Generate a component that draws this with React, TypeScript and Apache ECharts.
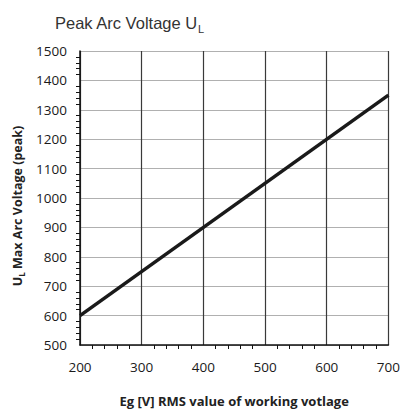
import React, { useEffect, useRef } from "react";
import * as echarts from "echarts";

const xRange = [200, 700];
const yRange = [500, 1500];
const lineData: [number, number][] = [
  [200, 600],
  [700, 1350],
];
const titleText = "Peak Arc Voltage U{sub|L}";
const xName = "Eg [V] RMS value of working votlage";
const yName = "{b|U}{bs|L}{b| Max Arc Voltage (peak)}";

export default function App() {
  const ref = useRef<HTMLDivElement>(null);
  useEffect(() => {
    if (!ref.current) return;
    const chart = echarts.init(ref.current, undefined, { renderer: "svg" });
    chart.setOption({
      animation: false,
      backgroundColor: "#ffffff",
      title: {
        text: titleText,
        left: 50,
        top: 7,
        textStyle: {
          fontFamily: "Liberation Sans",
          fontSize: 16.5,
          fontWeight: "normal",
          color: "#333333",
          lineHeight: 22,
          rich: {
            sub: {
              fontFamily: "Liberation Sans",
              fontSize: 11,
              color: "#333333",
              verticalAlign: "bottom",
              lineHeight: 15,
            },
          },
        },
      },
      grid: { left: 80, right: 12, top: 51, bottom: 58, containLabel: false },
      xAxis: {
        type: "value",
        min: xRange[0],
        max: xRange[1],
        interval: 100,
        name: xName,
        nameLocation: "middle",
        nameGap: 49,
        nameTextStyle: {
          fontFamily: "Open Sans",
          fontWeight: "bold",
          fontSize: 13,
          color: "#222",
        },
        axisLine: { show: true, lineStyle: { color: "#111", width: 1.5 } },
        axisTick: { show: false },
        minorTick: { show: true, splitNumber: 5, length: 4, lineStyle: { color: "#111", width: 1 } },
        axisLabel: { fontFamily: "Open Sans", fontSize: 13.5, color: "#1a1a1a", margin: 15 },
        splitLine: { show: true, lineStyle: { color: "#3a3a3a", width: 1.2 } },
      },
      yAxis: {
        type: "value",
        min: yRange[0],
        max: yRange[1],
        interval: 100,
        name: yName,
        nameLocation: "middle",
        nameGap: 55,
        nameRotate: 90,
        nameTextStyle: {
          padding: [0, 16, 0, 0],
          rich: {
            b: { fontFamily: "Open Sans", fontWeight: "bold", fontSize: 12.5, color: "#222", lineHeight: 16 },
            bs: { fontFamily: "Open Sans", fontWeight: "bold", fontSize: 8, color: "#222", verticalAlign: "bottom", lineHeight: 10 },
          },
        },
        axisLine: { show: true, lineStyle: { color: "#111", width: 1.5 } },
        axisTick: { show: false },
        minorTick: { show: true, splitNumber: 5, length: 4, lineStyle: { color: "#111", width: 1 } },
        axisLabel: {
          fontFamily: "Open Sans",
          fontSize: 13.5,
          color: "#1a1a1a",
          margin: 13,
          formatter: (v: number) => String(v),
        },
        splitLine: { show: true, lineStyle: { color: "#b0b0b0", width: 1.2 } },
      },
      series: [
        {
          type: "line",
          data: lineData,
          showSymbol: false,
          lineStyle: { color: "#1a1a1a", width: 3.5 },
          z: 5,
        },
      ],
    });
    return () => chart.dispose();
  }, []);
  return <div ref={ref} style={{ width: 403, height: 412, position: "absolute", left: 0, top: 0 }} />;
}
